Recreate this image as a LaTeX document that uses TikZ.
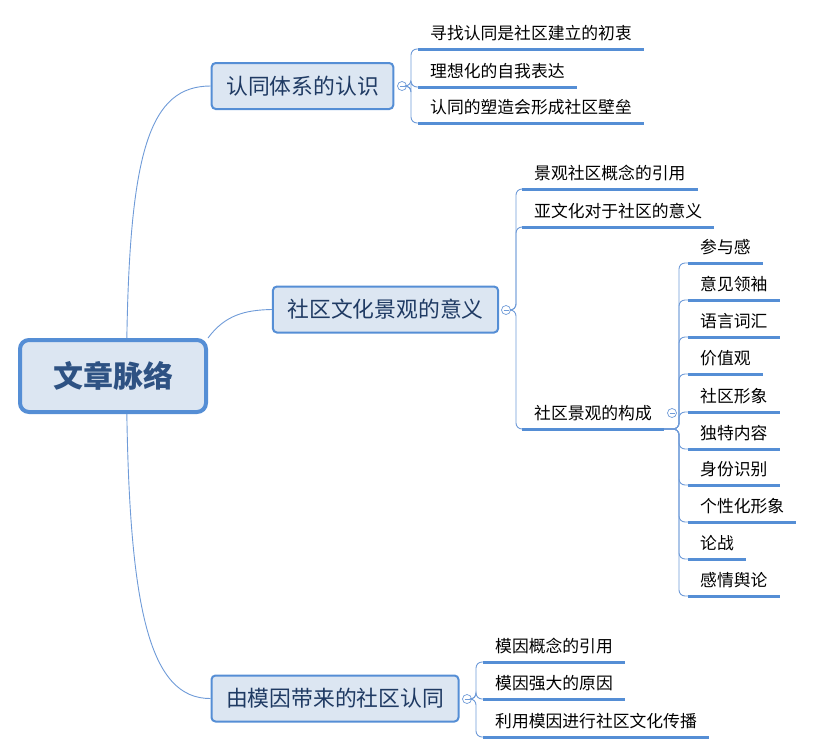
\documentclass[tikz,border=0pt]{standalone}
\usepackage{fontspec}
\setmainfont{Noto Sans CJK SC}
\usepackage{xcolor}

\definecolor{mmblue}{HTML}{558ED5}
\definecolor{mmlink}{HTML}{6F9BD8}
\definecolor{mmfill}{HTML}{DCE6F2}
\definecolor{mmtext}{HTML}{1F3A63}
\definecolor{mmroot}{HTML}{2E5283}

\tikzset{
	root/.style={draw=mmblue, line width=4pt, fill=mmfill, rounded corners=9pt,
		minimum width=186pt, minimum height=72pt, text=mmroot,
		font=\fontsize{30}{34}\selectfont\bfseries},
	topic/.style={draw=mmblue, line width=2pt, fill=mmfill, rounded corners=4pt,
		minimum height=46pt, inner xsep=14.5pt, text=mmtext,
		font=\fontsize{21.8}{26}\selectfont},
	leaf/.style={anchor=south west, inner xsep=12pt, inner ysep=0pt,
		text height=16pt, text depth=9.5pt, font=\fontsize{16.8}{20}\selectfont},
	uline/.style={draw=mmblue, line width=3pt},
	link/.style={draw=mmlink, line width=0.9pt},
	fold/.style={circle, draw=mmlink, fill=white, line width=0.7pt,
		minimum size=9pt, inner sep=0pt,
		path picture={\draw[mmlink, line width=0.7pt]
			([xshift=2pt]path picture bounding box.west) --
			([xshift=-2pt]path picture bounding box.east);}}
}

\begin{document}
\begin{tikzpicture}[x=1pt, y=-1pt]
	\useasboundingbox (0,0) rectangle (814,753);
	
	% main topics
	\node[root] (root) at (113,376) {文章脉络};
	\node[topic] (t1) at (302.5,86) {认同体系的认识};
	\node[topic] (t2) at (385.5,309.5) {社区文化景观的意义};
	\node[topic] (t3) at (335,698.5) {由模因带来的社区认同};
	
	\draw[link] (root.70) .. controls (130,150) and (150,86) .. (t1.west);
	\draw[link] (root.north east) .. controls (225,315) and (245,310) .. (t2.west);
	\draw[link] (root.-70) .. controls (130,610) and (150,699) .. (t3.west);
	
	\node[fold] (f1) at (402,86) {};
	\node[fold] (f2) at (506,310) {};
	\node[fold] (f3) at (467,699) {};
	\node[fold] (f4) at (672,413) {};
	
	\coordinate (v1) at (411,86);
	\coordinate (v2) at (516,310);
	\coordinate (v3) at (476,699);
	\coordinate (v4) at (679,429);
	
	% first topic
	\foreach \t/\y [count=\i] in {寻找认同是社区建立的初衷/49, 理想化的自我表达/87, 认同的塑造会形成社区壁垒/123} {
		\node[leaf] (a\i) at (418,\y) {\t};
		\draw[uline] (a\i.south west) -- (a\i.south east);
		\draw[link, rounded corners=6pt] (f1.east) -- (v1) |- (a\i.south west);
	}
	
	% second topic
	\foreach \t/\y [count=\i] in {景观社区概念的引用/189, 亚文化对于社区的意义/227, 社区景观的构成/429} {
		\node[leaf] (b\i) at (522,\y) {\t};
		\draw[uline] (b\i.south west) -- (b\i.south east);
		\draw[link, rounded corners=6pt] (f2.east) -- (v2) |- (b\i.south west);
	}
	
	\foreach \t/\y [count=\i] in {参与感/263, 意见领袖/300, 语言词汇/337, 价值观/374, 社区形象/412,
		独特内容/449, 身份识别/485, 个性化形象/522, 论战/559, 感情舆论/596} {
		\node[leaf] (s\i) at (688,\y) {\t};
		\draw[uline] (s\i.south west) -- (s\i.south east);
		\draw[link, rounded corners=6pt] (b3.south east) -- (v4) |- (s\i.south west);
	}
	
	% third topic
	\foreach \t/\y [count=\i] in {模因概念的引用/662, 模因强大的原因/699, 利用模因进行社区文化传播/737} {
		\node[leaf] (c\i) at (483,\y) {\t};
		\draw[uline] (c\i.south west) -- (c\i.south east);
		\draw[link, rounded corners=6pt] (f3.east) -- (v3) |- (c\i.south west);
	}
	
\end{tikzpicture}
\end{document}
